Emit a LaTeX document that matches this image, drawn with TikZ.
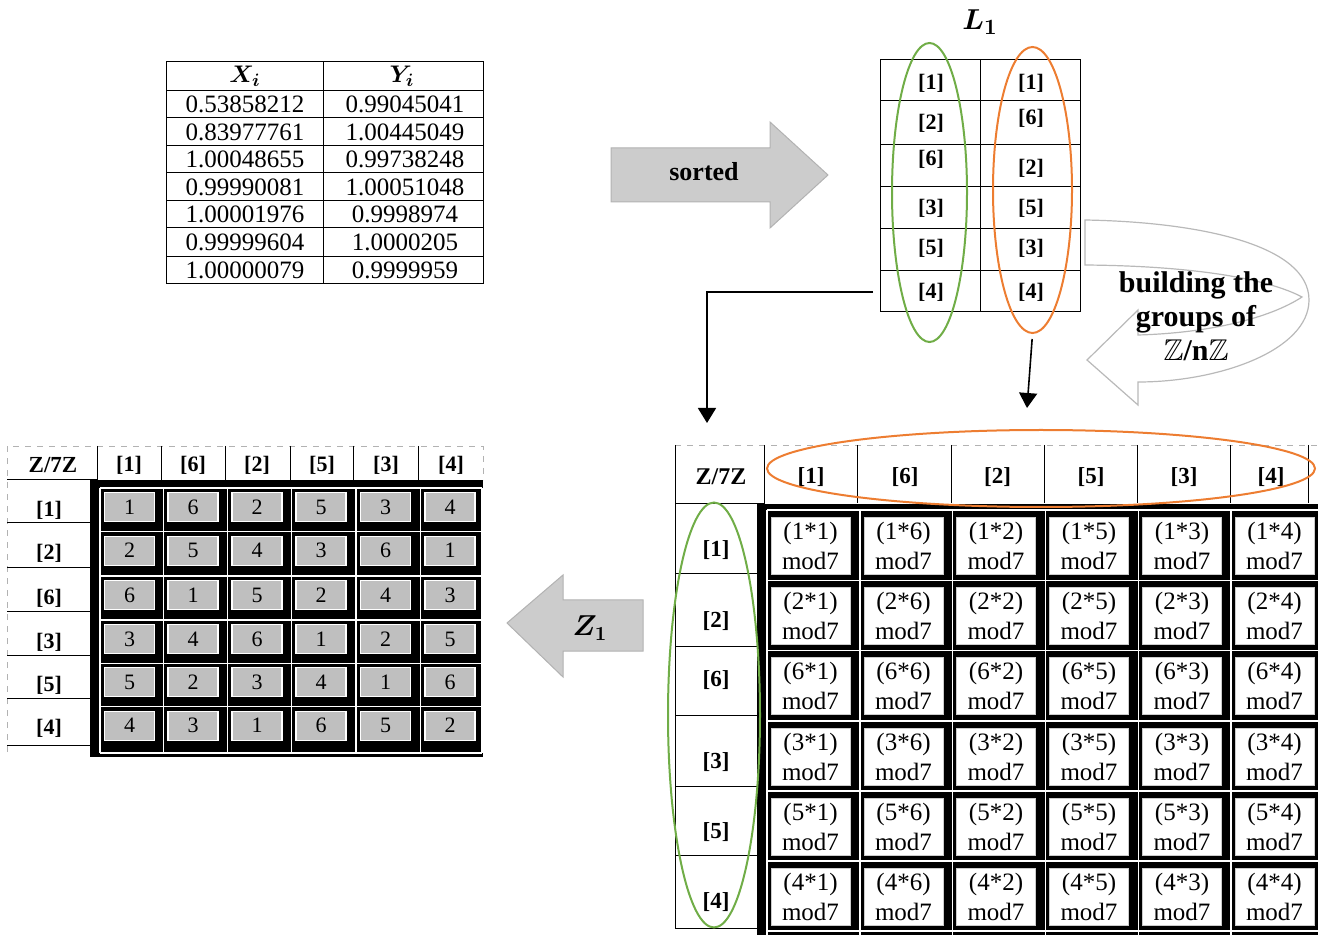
\documentclass[tikz,border=0pt]{standalone}
\usepackage{amsmath}
\usepackage{amssymb}
\usepackage{fontspec}
\setmainfont{Liberation Serif}
\usepackage{tikz}
\usetikzlibrary{calc}
\usetikzlibrary{shapes}
\usetikzlibrary{arrows.meta}

\definecolor{ellgreen}{HTML}{70AD47}
\definecolor{ellorange}{HTML}{ED7D31}

\tikzset{
  tabline/.style={line width=0.5pt},
  dashbox/.style={draw=gray!60, dashed, line width=0.4pt},
  numtxt/.style={inner sep=0pt, font=\fontsize{12.5}{14}\selectfont},
  cls/.style={inner sep=0pt, font=\bfseries\fontsize{11}{13}\selectfont},
  zhead/.style={inner sep=0pt, font=\bfseries\fontsize{11.5}{13}\selectfont},
  gcell/.style={fill=gray!50, draw=white, line width=0.6pt, minimum width=25pt,
    minimum height=14.5pt, inner sep=0pt, font=\fontsize{11}{13}\selectfont},
  mcell/.style={fill=white, draw=gray!40, line width=0.4pt, minimum width=39.5pt,
    minimum height=28.5pt, inner sep=0pt, align=center, font=\fontsize{12.5}{15}\selectfont},
  blockarrow/.style={draw=gray!60, fill=gray!40, line width=0.5pt},
  ring/.style={ellipse, draw, line width=1pt, inner sep=0pt}
}

\begin{document}
\begin{tikzpicture}[x=0.5pt, y=-0.5pt, >={Triangle[length=7.5pt, width=9pt]}]
		\useasboundingbox (0,0) rectangle (1318,935);

		% points table
		\draw[tabline] (166,62) rectangle (483,284);
		\draw[tabline] (323,62) -- (323,284);
		\draw[tabline] (166,91) -- (483,91);
		\draw[tabline] (166,118) -- (483,118);
		\draw[tabline] (166,146) -- (483,146);
		\draw[tabline] (166,173) -- (483,173);
		\draw[tabline] (166,201) -- (483,201);
		\draw[tabline] (166,228) -- (483,228);
		\draw[tabline] (166,257) -- (483,257);
		\node[numtxt] (xh) at (245,76) {$\boldsymbol{X_i}$};
		\node[numtxt] (yh) at (402,76) {$\boldsymbol{Y_i}$};
		\node[numtxt] (xv1) at (245,104.5) {0.53858212};
		\node[numtxt] (xv2) at (245,132) {0.83977761};
		\node[numtxt] (xv3) at (245,159.5) {1.00048655};
		\node[numtxt] (xv4) at (245,187) {0.99990081};
		\node[numtxt] (xv5) at (245,214.5) {1.00001976};
		\node[numtxt] (xv6) at (245,242.5) {0.99999604};
		\node[numtxt] (xv7) at (245,270.5) {1.00000079};
		\node[numtxt] (yv1) at (405,104.5) {0.99045041};
		\node[numtxt] (yv2) at (405,132) {1.00445049};
		\node[numtxt] (yv3) at (405,159.5) {0.99738248};
		\node[numtxt] (yv4) at (405,187) {1.00051048};
		\node[numtxt] (yv5) at (405,214.5) {0.9998974};
		\node[numtxt] (yv6) at (405,242.5) {1.0000205};
		\node[numtxt] (yv7) at (405,270.5) {0.9999959};

		% sorted arrow
		\draw[blockarrow] (611,148) -- (770,148) -- (770,122) -- (828,175) -- (770,228) -- (770,202) -- (611,202) -- cycle;
		\node[font=\bfseries\fontsize{13}{15}\selectfont] (srt) at (704,172) {sorted};

		% list L1
		\node[font=\fontsize{15}{17}\selectfont] (ltitle) at (980,22) {$\boldsymbol{L_1}$};
		\node[draw, tabline, minimum width=99.65pt, minimum height=126.2pt, inner sep=0pt] (ltab) at (980.35,185.5) {};
		\draw[tabline] (980,59.3) -- (980,311.7);
		\draw[tabline] (880.7,100.7) -- (1080,100.7);
		\draw[tabline] (880.7,144.3) -- (1080,144.3);
		\draw[tabline] (880.7,186.7) -- (1080,186.7);
		\draw[tabline] (880.7,228.3) -- (1080,228.3);
		\draw[tabline] (880.7,270.7) -- (1080,270.7);
		\node[cls] (la1) at (931,83) {[1]};
		\node[cls] (la2) at (931,123) {[2]};
		\node[cls] (la3) at (931,159) {[6]};
		\node[cls] (la4) at (931,208) {[3]};
		\node[cls] (la5) at (931,248) {[5]};
		\node[cls] (la6) at (931,292) {[4]};
		\node[cls] (lb1) at (1031,83) {[1]};
		\node[cls] (lb2) at (1031,118) {[6]};
		\node[cls] (lb3) at (1031,168) {[2]};
		\node[cls] (lb4) at (1031,208) {[5]};
		\node[cls] (lb5) at (1031,248) {[3]};
		\node[cls] (lb6) at (1031,292) {[4]};
		\node[ring, draw=ellgreen, minimum width=37.5pt, minimum height=149.5pt] (gring) at (929.5,192.5) {};
		\node[ring, draw=ellorange, minimum width=39.5pt, minimum height=143pt] (oring) at (1032.5,190) {};

		% turning arrow
		\draw[draw=gray!55, fill=white, line width=0.6pt] (1085,220) .. controls (1200,222) and (1309,245) .. (1309,300)
			.. controls (1309,350) and (1220,382) .. (1138,382) -- (1138,405) -- (1087,360) -- (1138,310) -- (1138,335)
			.. controls (1210,333) and (1270,318) .. (1302,297) .. controls (1270,280) and (1200,266) .. (1085,265) -- cycle;
		\node[align=center, font=\bfseries\fontsize{15}{17}\selectfont] (build) at (1196,316) {building the\\groups of\\$\mathbb{Z}$/n$\mathbb{Z}$};

		\coordinate (rowsin) at (707,423);
		\coordinate (colsin) at (1027,408);
		\path[draw, thick, ->, shorten <=3.5pt] (ltab.west |- la6) -| (rowsin);
		\path[draw, thick, ->, shorten <=2.5pt] (oring.south) -- (colsin);

		% Z1 arrow
		\draw[blockarrow] (643,600) -- (563,600) -- (563,575) -- (507,623) -- (563,677) -- (563,651) -- (643,651) -- cycle;
		\node[font=\fontsize{14}{16}\selectfont] (zone) at (590,628) {$\boldsymbol{Z_1}$};

		% product table
		\draw[dashbox] (675,445) -- (1318,445);
		\draw[tabline] (675,445) -- (675,928) -- (757,928);
		\draw[tabline] (675,503.5) -- (764.5,503.5);
		\draw[tabline] (764.5,445) -- (764.5,503.5);
		\draw[tabline] (857.4,445) -- (857.4,503.5);
		\draw[tabline] (951,445) -- (951,503.5);
		\draw[tabline] (1044,445) -- (1044,503.5);
		\draw[tabline] (1137,445) -- (1137,503.5);
		\draw[tabline] (1230,445) -- (1230,503.5);
		\draw[tabline] (1308,445) -- (1308,503.5);
		\draw[tabline] (675,574) -- (757,574);
		\draw[tabline] (675,646) -- (757,646);
		\draw[tabline] (675,715) -- (757,715);
		\draw[tabline] (675,786) -- (757,786);
		\draw[tabline] (675,855) -- (757,855);
		\node[zhead, font=\bfseries\fontsize{12}{14}\selectfont] (rh0) at (721,477) {Z/7Z};
		\node[zhead] (rh1) at (811,477) {[1]};
		\node[zhead] (rh2) at (905,477) {[6]};
		\node[zhead] (rh3) at (997.5,477) {[2]};
		\node[zhead] (rh4) at (1091,477) {[5]};
		\node[zhead] (rh5) at (1184,477) {[3]};
		\node[zhead] (rh6) at (1271,477) {[4]};
		\node[zhead] (rr1) at (716,550) {[1]};
		\node[zhead] (rr2) at (716,621) {[2]};
		\node[zhead] (rr3) at (716,680) {[6]};
		\node[zhead] (rr4) at (716,762) {[3]};
		\node[zhead] (rr5) at (716,832) {[5]};
		\node[zhead] (rr6) at (716,902) {[4]};
		\fill (757,504) rectangle (1318,935);
		\draw[white, line width=0.6pt] (767,510) -- (767,935) (860,510) -- (860,935) (952.5,510) -- (952.5,935)
			(1045.5,510) -- (1045.5,935) (1138.5,510) -- (1138.5,935) (1231,510) -- (1231,935)
			(767,510) -- (1318,510) (767,580.5) -- (1318,580.5) (767,650.7) -- (1318,650.7)
			(767,721) -- (1318,721) (767,791) -- (1318,791) (767,861) -- (1318,861) (767,931) -- (1318,931);
		\node[mcell] (m11) at (810.5,545.5) {(1*1)\\mod7};
		\node[mcell] (m12) at (903.5,545.5) {(1*6)\\mod7};
		\node[mcell] (m13) at (996,545.5) {(1*2)\\mod7};
		\node[mcell] (m14) at (1089,545.5) {(1*5)\\mod7};
		\node[mcell] (m15) at (1182,545.5) {(1*3)\\mod7};
		\node[mcell] (m16) at (1274.5,545.5) {(1*4)\\mod7};
		\node[mcell] (m21) at (810.5,616) {(2*1)\\mod7};
		\node[mcell] (m22) at (903.5,616) {(2*6)\\mod7};
		\node[mcell] (m23) at (996,616) {(2*2)\\mod7};
		\node[mcell] (m24) at (1089,616) {(2*5)\\mod7};
		\node[mcell] (m25) at (1182,616) {(2*3)\\mod7};
		\node[mcell] (m26) at (1274.5,616) {(2*4)\\mod7};
		\node[mcell] (m31) at (810.5,686) {(6*1)\\mod7};
		\node[mcell] (m32) at (903.5,686) {(6*6)\\mod7};
		\node[mcell] (m33) at (996,686) {(6*2)\\mod7};
		\node[mcell] (m34) at (1089,686) {(6*5)\\mod7};
		\node[mcell] (m35) at (1182,686) {(6*3)\\mod7};
		\node[mcell] (m36) at (1274.5,686) {(6*4)\\mod7};
		\node[mcell] (m41) at (810.5,756.5) {(3*1)\\mod7};
		\node[mcell] (m42) at (903.5,756.5) {(3*6)\\mod7};
		\node[mcell] (m43) at (996,756.5) {(3*2)\\mod7};
		\node[mcell] (m44) at (1089,756.5) {(3*5)\\mod7};
		\node[mcell] (m45) at (1182,756.5) {(3*3)\\mod7};
		\node[mcell] (m46) at (1274.5,756.5) {(3*4)\\mod7};
		\node[mcell] (m51) at (810.5,826.5) {(5*1)\\mod7};
		\node[mcell] (m52) at (903.5,826.5) {(5*6)\\mod7};
		\node[mcell] (m53) at (996,826.5) {(5*2)\\mod7};
		\node[mcell] (m54) at (1089,826.5) {(5*5)\\mod7};
		\node[mcell] (m55) at (1182,826.5) {(5*3)\\mod7};
		\node[mcell] (m56) at (1274.5,826.5) {(5*4)\\mod7};
		\node[mcell] (m61) at (810.5,896.5) {(4*1)\\mod7};
		\node[mcell] (m62) at (903.5,896.5) {(4*6)\\mod7};
		\node[mcell] (m63) at (996,896.5) {(4*2)\\mod7};
		\node[mcell] (m64) at (1089,896.5) {(4*5)\\mod7};
		\node[mcell] (m65) at (1182,896.5) {(4*3)\\mod7};
		\node[mcell] (m66) at (1274.5,896.5) {(4*4)\\mod7};
		\node[ring, draw=ellgreen, minimum width=46pt, minimum height=212.5pt] (gcol) at (714,715) {};
		\node[ring, draw=ellorange, minimum width=274pt, minimum height=38.5pt] (orow) at (1041,468.5) {};

		% group table Z/7Z
		\draw[dashbox] (7,752) -- (7,446) -- (483,446) -- (483,480);
		\draw[tabline] (7,480) -- (97.7,480);
		\draw[tabline] (97.7,446) -- (97.7,480);
		\draw[tabline] (161.7,446) -- (161.7,480);
		\draw[tabline] (225,446) -- (225,480);
		\draw[tabline] (290,446) -- (290,480);
		\draw[tabline] (353,446) -- (353,480);
		\draw[tabline] (418,446) -- (418,480);
		\draw[tabline] (7,523) -- (90,523);
		\draw[tabline] (7,568) -- (90,568);
		\draw[tabline] (7,612) -- (90,612);
		\draw[tabline] (7,655) -- (90,655);
		\draw[tabline] (7,698) -- (90,698);
		\draw[tabline] (7,745) -- (90,745);
		\node[zhead] (lh0) at (53,465) {Z/7Z};
		\node[cls] (lh1) at (129,465) {[1]};
		\node[cls] (lh2) at (193,465) {[6]};
		\node[cls] (lh3) at (257,465) {[2]};
		\node[cls] (lh4) at (322,465) {[5]};
		\node[cls] (lh5) at (386,465) {[3]};
		\node[cls] (lh6) at (451,465) {[4]};
		\node[cls] (lr1) at (49,510) {[1]};
		\node[cls] (lr2) at (49,553) {[2]};
		\node[cls] (lr3) at (49,598) {[6]};
		\node[cls] (lr4) at (49,642) {[3]};
		\node[cls] (lr5) at (49,685) {[5]};
		\node[cls] (lr6) at (49,728) {[4]};
		\fill (90,480) rectangle (483,757);
		\draw[white, line width=0.6pt] (100,488) -- (100,753) (163.5,488) -- (163.5,753) (227.5,488) -- (227.5,753)
			(291.5,488) -- (291.5,753) (356,488) -- (356,753) (420.5,488) -- (420.5,753) (482,488) -- (482,753)
			(100,488) -- (482,488) (100,531.7) -- (482,531.7) (100,576) -- (482,576) (100,620) -- (482,620)
			(100,663.3) -- (482,663.3) (100,706.7) -- (482,706.7) (100,753) -- (482,753);
		\node[gcell] (g11) at (129.5,507) {1};
		\node[gcell] (g12) at (193,507) {6};
		\node[gcell] (g13) at (257,507) {2};
		\node[gcell] (g14) at (321,507) {5};
		\node[gcell] (g15) at (385.5,507) {3};
		\node[gcell] (g16) at (450,507) {4};
		\node[gcell] (g21) at (129.5,550.7) {2};
		\node[gcell] (g22) at (193,550.7) {5};
		\node[gcell] (g23) at (257,550.7) {4};
		\node[gcell] (g24) at (321,550.7) {3};
		\node[gcell] (g25) at (385.5,550.7) {6};
		\node[gcell] (g26) at (450,550.7) {1};
		\node[gcell] (g31) at (129.5,595) {6};
		\node[gcell] (g32) at (193,595) {1};
		\node[gcell] (g33) at (257,595) {5};
		\node[gcell] (g34) at (321,595) {2};
		\node[gcell] (g35) at (385.5,595) {4};
		\node[gcell] (g36) at (450,595) {3};
		\node[gcell] (g41) at (129.5,639) {3};
		\node[gcell] (g42) at (193,639) {4};
		\node[gcell] (g43) at (257,639) {6};
		\node[gcell] (g44) at (321,639) {1};
		\node[gcell] (g45) at (385.5,639) {2};
		\node[gcell] (g46) at (450,639) {5};
		\node[gcell] (g51) at (129.5,682.3) {5};
		\node[gcell] (g52) at (193,682.3) {2};
		\node[gcell] (g53) at (257,682.3) {3};
		\node[gcell] (g54) at (321,682.3) {4};
		\node[gcell] (g55) at (385.5,682.3) {1};
		\node[gcell] (g56) at (450,682.3) {6};
		\node[gcell] (g61) at (129.5,725.7) {4};
		\node[gcell] (g62) at (193,725.7) {3};
		\node[gcell] (g63) at (257,725.7) {1};
		\node[gcell] (g64) at (321,725.7) {6};
		\node[gcell] (g65) at (385.5,725.7) {5};
		\node[gcell] (g66) at (450,725.7) {2};
\end{tikzpicture}
\end{document}
